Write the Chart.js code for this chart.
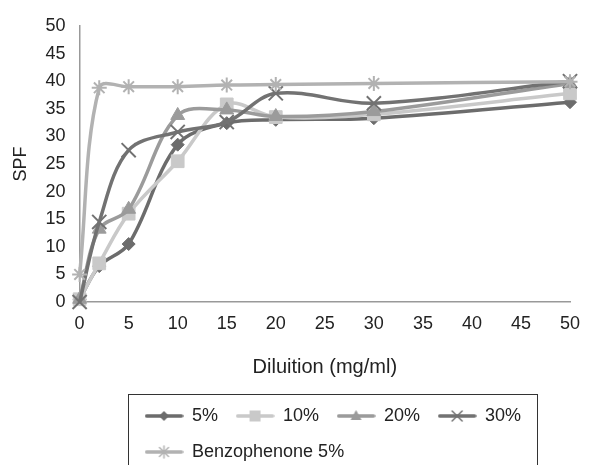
<!DOCTYPE html>
<html>
<head>
<meta charset="utf-8">
<script src="https://cdn.jsdelivr.net/npm/chart.js@4.4.0/dist/chart.umd.min.js"></script>
<style>
  html, body { margin: 0; padding: 0; background: #fff; }
  #wrap { width: 593px; height: 465px; }
</style>
</head>
<body>
<div id="wrap"><canvas id="spfChart"></canvas></div>
<script>
// dilution (mg/ml) where SPF was measured
const dilutions = [0, 2, 5, 10, 15, 20, 30, 50];

// SPF readings per extract concentration
const spf5 = [0.5, 6.5, 10.5, 28.5, 32.4, 33, 33.3, 36.2];
const spf10 = [0.5, 7, 16, 25.5, 35.8, 33.5, 34, 37.8];
const spf20 = [0.5, 13.2, 16.8, 33.8, 34.8, 33.6, 34.5, 39.6];
const spf30 = [0, 14.5, 27.5, 30.8, 32.6, 37.8, 36, 40];
const benzophenone = [5, 38.8, 39, 39, 39.3, 39.4, 39.6, 39.9];

const seriesNames = ["5%", "10%", "20%", "30%", "Benzophenone 5%"];
const seriesValues = [spf5, spf10, spf20, spf30, benzophenone];
const seriesColors = ["#6c6c6c", "#c9c9c9", "#9b9b9b", "#727272", "#b2b2b2"];
const seriesMarkers = ["rectRot", "rect", "triangle", "crossRot", "star"];
const markerSizes = [6.5, 9, 8, 10, 7.5];

// axis ranges / tick step
const xMax = 50;
const yMax = 50;
const tickStep = 5;

Chart.defaults.font.family = '"Liberation Sans", Arial, sans-serif';
Chart.defaults.font.size = 18;
Chart.defaults.color = "#222";

// little "line + marker" picture for the legend, like excel does it
function legendIcon(color, marker) {
  const cv = document.createElement("canvas");
  cv.width = 39;
  cv.height = 16;
  const c = cv.getContext("2d");
  c.strokeStyle = color;
  c.fillStyle = color;
  c.lineWidth = 3.5;
  c.lineCap = "round";
  c.beginPath();
  c.moveTo(2, 8);
  c.lineTo(37, 8);
  c.stroke();
  const cx = 19.5, cy = 8;
  c.lineWidth = 1.5;
  c.beginPath();
  if (marker === "rectRot") {
    c.moveTo(cx, cy - 5); c.lineTo(cx + 5, cy); c.lineTo(cx, cy + 5); c.lineTo(cx - 5, cy);
    c.closePath(); c.fill();
  } else if (marker === "rect") {
    c.fillRect(cx - 5.5, cy - 5.5, 11, 11);
  } else if (marker === "triangle") {
    c.moveTo(cx, cy - 6); c.lineTo(cx + 5.5, cy + 4); c.lineTo(cx - 5.5, cy + 4);
    c.closePath(); c.fill();
  } else if (marker === "crossRot") {
    c.moveTo(cx - 5, cy - 5); c.lineTo(cx + 5, cy + 5);
    c.moveTo(cx + 5, cy - 5); c.lineTo(cx - 5, cy + 5);
    c.stroke();
  } else {
    c.moveTo(cx - 4.5, cy - 4.5); c.lineTo(cx + 4.5, cy + 4.5);
    c.moveTo(cx + 4.5, cy - 4.5); c.lineTo(cx - 4.5, cy + 4.5);
    c.moveTo(cx, cy - 6); c.lineTo(cx, cy + 6);
    c.stroke();
  }
  return cv;
}

const datasets = seriesNames.map((name, i) => ({
  label: name,
  data: dilutions.map((d, j) => ({ x: d, y: seriesValues[i][j] })),
  borderColor: seriesColors[i],
  backgroundColor: seriesColors[i],
  borderWidth: 3.5,
  tension: 0.35,
  pointStyle: seriesMarkers[i],
  pointRadius: markerSizes[i],
  pointBorderWidth: (seriesMarkers[i] === "crossRot" || seriesMarkers[i] === "star") ? 2 : 1,
  pointBorderColor: seriesColors[i],
  pointBackgroundColor: seriesColors[i],
  clip: false,
  order: seriesNames.length - i // later series on top, like the original
}));

// move the legend into its framed box under the axis title
const legendFrame = {
  id: "legendFrame",
  afterLayout(chart) {
    const lg = chart.legend;
    lg.left = 127;
    lg.right = 560;
    lg.width = lg.right - lg.left;
    lg.top = 389;
    lg.bottom = lg.top + lg.height;
  },
  afterDraw(chart) {
    const c = chart.ctx;
    c.save();
    c.strokeStyle = "#333";
    c.lineWidth = 1;
    c.strokeRect(128.5, 394.5, 409, 90);
    c.restore();
  }
};

const ctx = document.getElementById("spfChart").getContext("2d");
new Chart(ctx, {
  type: "line",
  data: { datasets: datasets },
  options: {
    responsive: true,
    maintainAspectRatio: false,
    animation: false,
    layout: { padding: { left: 4, right: 23, top: 26, bottom: 0 } },
    scales: {
      x: {
        type: "linear",
        min: 0,
        max: xMax,
        grid: { display: false, drawTicks: false },
        border: { display: true, color: "#999", width: 1.5 },
        ticks: { stepSize: tickStep, padding: 11, color: "#222" },
        title: {
          display: true, text: "Diluition (mg/ml)", color: "#222",
          font: { size: 20 }, padding: { top: 9.4, bottom: 4 }
        }
      },
      y: {
        min: 0,
        max: yMax,
        grid: { display: false, drawTicks: false },
        border: { display: true, color: "#999", width: 1.5 },
        ticks: { stepSize: tickStep, padding: 14, color: "#222" },
        title: { display: true, text: "SPF", color: "#222", padding: { top: 6, bottom: 0 } }
      }
    },
    plugins: {
      tooltip: { enabled: false },
      legend: {
        position: "bottom",
        align: "start",
        labels: {
          usePointStyle: true,
          pointStyleWidth: 38,
          padding: 18,
          color: "#222",
          generateLabels(chart) {
            const items = Chart.defaults.plugins.legend.labels.generateLabels(chart);
            items.sort((a, b) => a.datasetIndex - b.datasetIndex);
            items.forEach((it) => {
              const k = it.datasetIndex;
              it.pointStyle = legendIcon(seriesColors[k], seriesMarkers[k]);
            });
            return items;
          }
        }
      }
    }
  },
  plugins: [legendFrame]
});
</script>
</body>
</html>
